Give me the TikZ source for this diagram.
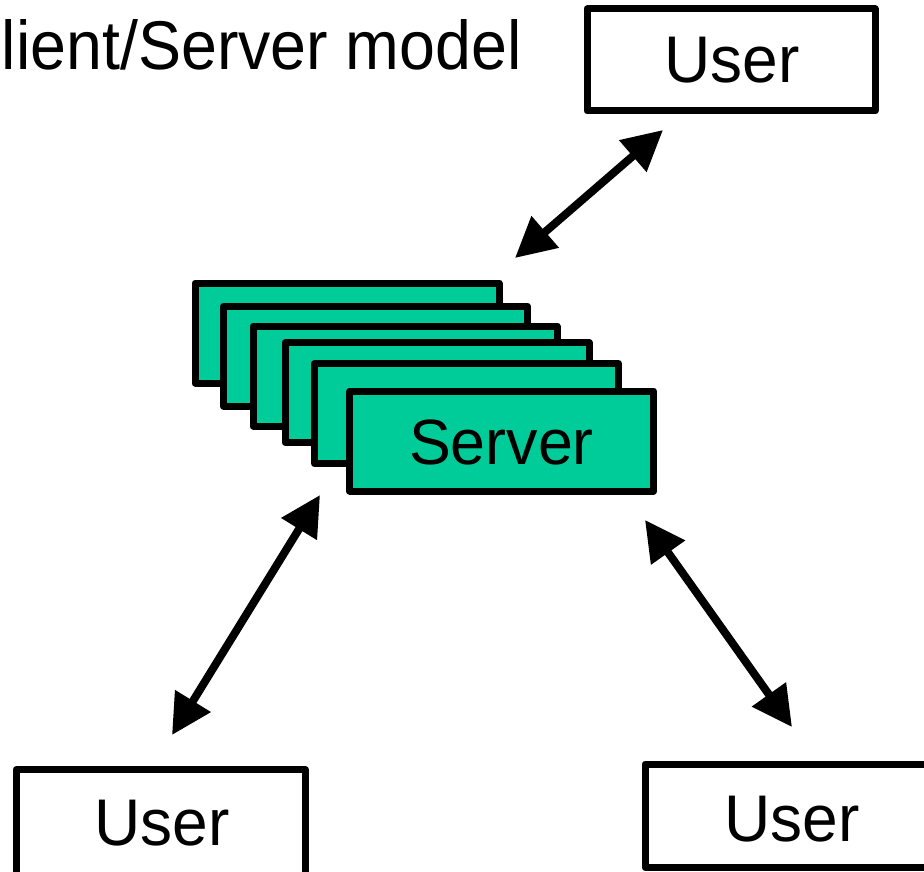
\documentclass[tikz,border=0pt]{standalone}
\usepackage{fontspec}
\setmainfont{Liberation Sans}
\usetikzlibrary{arrows.meta}
\definecolor{servergreen}{RGB}{0,204,153}
\begin{document}
\begin{tikzpicture}[x=1pt,y=-1pt,
  frame/.style={draw=black, line width=7pt, line join=round, rectangle, inner sep=0pt, outer sep=0pt},
  userbox/.style={frame, fill=white, minimum width=288pt, minimum height=102pt},
  serverbox/.style={frame, fill=servergreen, minimum width=304pt, minimum height=100pt},
  boxtext/.style={inner sep=0pt, anchor=base, font=\fontsize{66}{66}\selectfont},
  headline/.style={inner sep=0pt, anchor=base east, font=\fontsize{69}{69}\selectfont},
  link/.style={line width=8pt, {Triangle[length=40pt,width=40pt]}-{Triangle[length=40pt,width=40pt]}}
]
\useasboundingbox (0,0) rectangle (924,872);

% title (runs off the left edge)
\node[headline] (title) at (522,70) {\scalebox{0.935}[1]{Client/Server model}};

% users
\node[userbox] (utop) at (731,60) {};
\node[boxtext] (utoptext) at (732,83) {\scalebox{0.97}[1]{User}};

\node[userbox, minimum width=289pt, minimum height=112pt] (uleft) at (160.5,825.5) {};
\node[boxtext] (ulefttext) at (162,845) {\scalebox{0.97}[1]{User}};

\node[userbox, minimum height=103.5pt] (uright) at (789,815.75) {};
\node[boxtext] (urighttext) at (792,841) {\scalebox{0.97}[1]{User}};

% stack of server processes, back to front
\node[serverbox] (s1) at (347,333) {};
\node[serverbox] (s2) at (375.5,356) {};
\node[serverbox] (s3) at (405,376) {};
\node[serverbox] (s4) at (437,392.5) {};
\node[serverbox] (s5) at (466.5,413.5) {};
\node[serverbox] (s6) at (501.75,441) {};
\node[boxtext, font=\fontsize{64}{64}\selectfont] (servertext) at (501.5,464) {\scalebox{0.98}[1]{Server}};

% arrow end points
\coordinate (topA) at (663,130);
\coordinate (topB) at (515,258);
\coordinate (leftA) at (320,495);
\coordinate (leftB) at (172,735);
\coordinate (rightA) at (645,520);
\coordinate (rightB) at (792,727);

\draw[link] (topB) -- (topA);
\draw[link] (leftA) -- (leftB);
\draw[link] (rightA) -- (rightB);
\end{tikzpicture}
\end{document}
